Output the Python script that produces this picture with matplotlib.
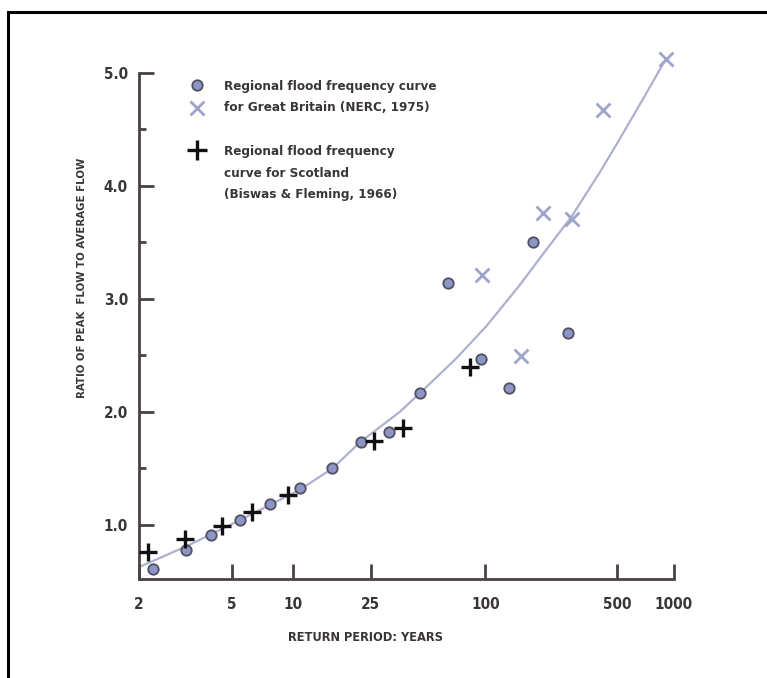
import numpy as np
import matplotlib
matplotlib.use("Agg")
import matplotlib.pyplot as plt
from matplotlib import font_manager
from matplotlib.lines import Line2D

# Return periods (years) and ratio of peak flow to average flow
gb_circle_T = [2.26, 3.08, 3.99, 5.50, 7.70, 10.85, 15.7, 22.2, 31.2, 45.2, 63.7, 94.4, 133.6, 178, 275]
gb_circle_y = [0.61, 0.78, 0.91, 1.04, 1.18, 1.33, 1.50, 1.73, 1.82, 2.165, 3.14, 2.47, 2.21, 3.50, 2.70]
gb_cross_T = [95.6, 154, 202.5, 286.5, 418, 903]
gb_cross_y = [3.21, 2.49, 3.76, 3.71, 4.67, 5.12]
sc_T = [2.16, 3.05, 4.52, 6.29, 9.43, 25.96, 36.7, 82.9]
sc_y = [0.755, 0.87, 0.985, 1.11, 1.26, 1.74, 1.86, 2.40]
curve_T = [2.02, 3.11, 5.46, 10.8, 15.9, 22.0, 35.5, 45.2, 69.7, 101.6, 152.4,
           193.1, 286.5, 404.9, 517, 702, 903]
curve_y = [0.63, 0.81, 1.04, 1.31, 1.50, 1.73, 2.00, 2.165, 2.467, 2.761, 3.124,
           3.354, 3.73, 4.123, 4.42, 4.801, 5.121]

x_ticks = [2, 5, 10, 25, 100, 500, 1000]
x_ticklabels = ["2", "5", "10", "25", "100", "500", "1000"]
y_ticks = [1.0, 2.0, 3.0, 4.0, 5.0]
y_minor = [1.5, 2.5, 3.5, 4.5]

legend_gb = ["Regional flood frequency curve", "for Great Britain (NERC, 1975)"]
legend_sc = ["Regional flood frequency", "curve for Scotland", "(Biswas & Fleming, 1966)"]

# pick a narrow face when one is installed
names = {f.name for f in font_manager.fontManager.ttflist}
if "Liberation Sans Narrow" in names:
    FONT = dict(family="Liberation Sans Narrow", weight="bold")
else:
    FONT = dict(family="DejaVu Sans", weight="bold", stretch="condensed")

TXT = "#3b3636"
AX = "#4a4242"
CIRCLE_FC = "#8d95c7"
CIRCLE_EC = "#505060"
CROSS_C = "#9ea4cc"


# Gumbel reduced variate scale for the return period axis
def to_gumbel(T):
    T = np.asarray(T, dtype=float)
    p = np.clip(1.0 - 1.0 / np.where(T > 1.0001, T, 1.0001), 1e-12, 1 - 1e-12)
    return -np.log(-np.log(p))


def from_gumbel(g):
    g = np.asarray(g, dtype=float)
    return 1.0 / (1.0 - np.exp(-np.exp(-g)))


fig = plt.figure(figsize=(7.67, 6.78), dpi=100)
fig.patch.set_facecolor("white")
ax = fig.add_axes([139 / 767, 99 / 678, 535 / 767, 506 / 678])
ax.set_xscale("function", functions=(to_gumbel, from_gumbel))
ax.set_xlim(2, 1000)
ax.set_ylim(0.52, 5.0)

ax.plot(curve_T, curve_y, color="#aeb0cf", lw=1.6, clip_on=False, zorder=2,
        solid_joinstyle="round")
ax.plot(gb_cross_T, gb_cross_y, "x", ms=10, mew=2.0, color=CROSS_C,
        clip_on=False, zorder=3)
ax.plot(gb_circle_T, gb_circle_y, "o", ms=7.5, mfc=CIRCLE_FC, mec=CIRCLE_EC,
        mew=1.3, clip_on=False, zorder=4)
ax.plot(sc_T, sc_y, "+", ms=13, mew=2.4, color="#111111", clip_on=False, zorder=5)

for s in ("top", "right"):
    ax.spines[s].set_visible(False)
for s in ("left", "bottom"):
    ax.spines[s].set_color(AX)
    ax.spines[s].set_linewidth(2)

ax.set_xticks(x_ticks)
ax.set_xticklabels(x_ticklabels)
ax.xaxis.set_minor_locator(matplotlib.ticker.NullLocator())
ax.set_yticks(y_ticks)
ax.set_yticklabels([f"{v:.1f}" for v in y_ticks])
ax.set_yticks(y_minor, minor=True)
ax.tick_params(axis="both", which="major", direction="in", length=11, width=2,
               color=AX, labelcolor=TXT)
ax.tick_params(axis="y", which="minor", direction="in", length=5, width=2, color=AX)
ax.tick_params(axis="x", pad=13)
ax.tick_params(axis="y", pad=8)
for lab in ax.get_xticklabels() + ax.get_yticklabels():
    lab.set_fontfamily(FONT["family"])
    lab.set_fontweight("bold")
    lab.set_fontsize(11)
    if "stretch" in FONT:
        lab.set_fontstretch(FONT["stretch"])

ax.set_xlabel("RETURN PERIOD: YEARS", color=TXT, fontsize=9.2, **FONT)
ax.xaxis.set_label_coords(0.424, -0.103)
ax.set_ylabel("RATIO OF PEAK  FLOW TO AVERAGE FLOW", color=TXT, fontsize=8.2, **FONT)
ax.yaxis.set_label_coords(-0.097, 0.595)

# key
ax.plot([0.108], [0.976], "o", ms=7.5, mfc=CIRCLE_FC, mec=CIRCLE_EC, mew=1.3,
        transform=ax.transAxes, clip_on=False)
ax.plot([0.108], [0.930], "x", ms=10, mew=2.0, color=CROSS_C,
        transform=ax.transAxes, clip_on=False)
ax.plot([0.108], [0.848], "+", ms=14, mew=2.4, color="#111111",
        transform=ax.transAxes, clip_on=False)
for txt, yy in zip(legend_gb + legend_sc, [0.973, 0.931, 0.844, 0.802, 0.759]):
    ax.text(0.159, yy, txt, transform=ax.transAxes, va="center", ha="left",
            color=TXT, fontsize=9.6, **FONT)

# outer frame
fig.add_artist(Line2D([8 / 767, 8 / 767], [0, 1 - 12 / 678], color="black", lw=2.2,
                      transform=fig.transFigure))
fig.add_artist(Line2D([8 / 767, 1], [1 - 12 / 678, 1 - 12 / 678], color="black", lw=2.2,
                      transform=fig.transFigure))

fig.savefig("out.png", dpi=100)
